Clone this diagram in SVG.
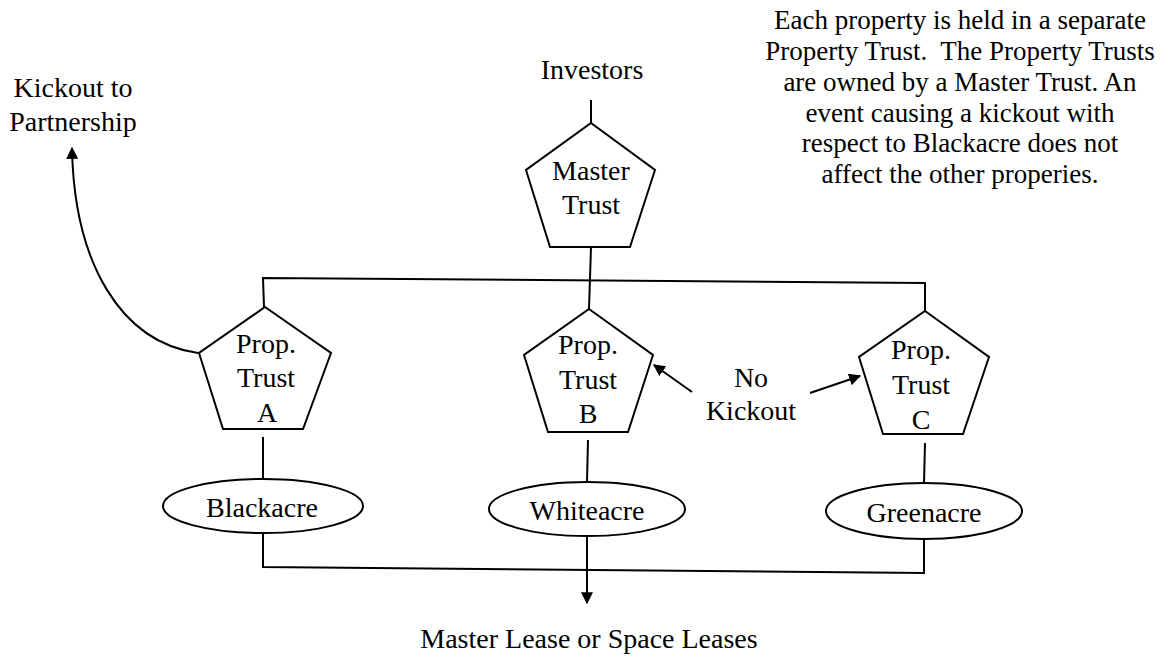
<svg xmlns="http://www.w3.org/2000/svg" width="1161" height="656" viewBox="0 0 1161 656">
<style>
  .shape { fill: #fff; stroke: #000; stroke-width: 2; }
  .line { fill: none; stroke: #000; stroke-width: 2; }
  text { font-family: "Liberation Serif", "Times New Roman", serif; font-size: 28px; fill: #000; text-anchor: middle; }
  .note text { font-size: 27px; }
</style>
<defs>
  <marker id="arrowL" viewBox="0 0 10 10" refX="9" refY="5" markerWidth="12" markerHeight="12" markerUnits="userSpaceOnUse" orient="auto">
    <path d="M0,0 L10,5 L0,10 z" fill="#000"/>
  </marker>
</defs>
<rect width="1161" height="656" fill="#fff"/>

<g id="connectors">
  <line class="line" x1="591" y1="100" x2="591" y2="123"/>
  <line class="line" x1="591" y1="247" x2="589" y2="309"/>
  <polyline class="line" points="264,307 263,278 925,283 925,311"/>
  <line class="line" x1="263" y1="437" x2="263" y2="480"/>
  <line class="line" x1="588" y1="440" x2="587" y2="482"/>
  <line class="line" x1="925" y1="443" x2="924" y2="483"/>
  <polyline class="line" points="263,533 263,567 924,573 924,539"/>
  <line class="line" x1="587" y1="537" x2="587" y2="603" marker-end="url(#arrowL)"/>
  <path class="line" d="M198,353 C120,342 74,262 72,148" marker-end="url(#arrowL)"/>
  <line class="line" x1="692" y1="392" x2="654" y2="365" marker-end="url(#arrowL)"/>
  <line class="line" x1="810" y1="393" x2="860" y2="376" marker-end="url(#arrowL)"/>
</g>

<g id="investors"><text x="592" y="79">Investors</text></g>

<g id="master-trust">
  <polygon class="shape" points="591,123 655,170 630,247 550,247 526,170"/>
  <text x="591" y="180">Master</text>
  <text x="591" y="214">Trust</text>
</g>

<g id="prop-trust-a">
  <polygon class="shape" points="265,307 331,353 303,429 223,429 199,353"/>
  <text x="266" y="353">Prop.</text>
  <text x="266" y="387">Trust</text>
  <text x="267" y="422">A</text>
</g>

<g id="prop-trust-b">
  <polygon class="shape" points="589,309 653,355 628,432 548,432 524,355"/>
  <text x="588" y="354">Prop.</text>
  <text x="588" y="389">Trust</text>
  <text x="588" y="423">B</text>
</g>

<g id="prop-trust-c">
  <polygon class="shape" points="925,311 989,357 963,434 883,434 859,357"/>
  <text x="921" y="359">Prop.</text>
  <text x="921" y="394">Trust</text>
  <text x="921" y="429">C</text>
</g>

<g id="blackacre">
  <ellipse class="shape" cx="263" cy="506" rx="100" ry="27"/>
  <text x="262" y="517">Blackacre</text>
</g>

<g id="whiteacre">
  <ellipse class="shape" cx="587" cy="509" rx="98" ry="27"/>
  <text x="587" y="520">Whiteacre</text>
</g>

<g id="greenacre">
  <ellipse class="shape" cx="924" cy="511" rx="98" ry="28"/>
  <text x="924" y="522">Greenacre</text>
</g>

<g id="kickout-to-partnership">
  <text x="73" y="97">Kickout to</text>
  <text x="73" y="131">Partnership</text>
</g>

<g id="no-kickout">
  <text x="751" y="387">No</text>
  <text x="751" y="420">Kickout</text>
</g>

<g id="master-lease">
  <text x="589" y="648">Master Lease or Space Leases</text>
</g>

<g id="note" class="note">
  <text x="960" y="29">Each property is held in a separate</text>
  <text x="960" y="60">Property Trust.&#160; The Property Trusts</text>
  <text x="960" y="91">are owned by a Master Trust. An</text>
  <text x="960" y="122">event causing a kickout with</text>
  <text x="960" y="152">respect to Blackacre does not</text>
  <text x="960" y="183">affect the other properies.</text>
</g>
</svg>
